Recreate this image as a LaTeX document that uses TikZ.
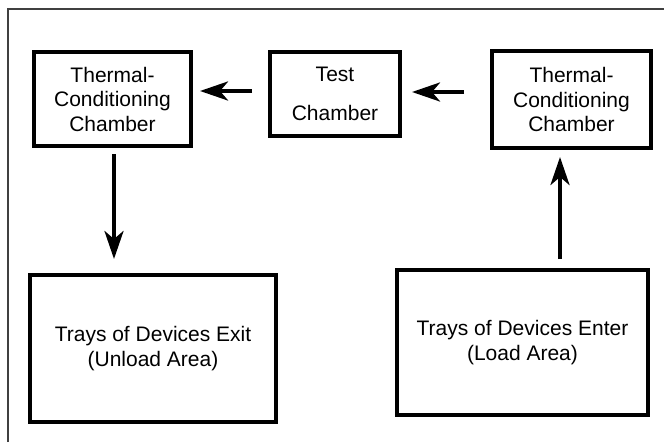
\documentclass[tikz,border=0pt]{standalone}
\usepackage{fontspec}
\setmainfont{Liberation Sans}
\usetikzlibrary{arrows.meta}
\begin{document}
\begin{tikzpicture}[x=1pt,y=-1pt,
  box/.style={draw=black,line width=4pt,inner sep=0pt,outer sep=0pt,align=center,
    font=\fontsize{21}{24.5}\selectfont},
  arr/.style={line width=4pt,-{Stealth[length=28pt,width=19pt,inset=8pt]}}]
\useasboundingbox (0,0) rectangle (664,442);
\draw[line width=1.8pt,black!75] (8,442) -- (8,9) -- (664,9);
\node[box,minimum width=157pt,minimum height=94pt] (tl) at (112.5,99) {Thermal-\\Conditioning\\Chamber};
\node[box,minimum width=130pt,minimum height=84pt] (test) at (335,94) {Test\\[14pt]Chamber};
\node[box,minimum width=159pt,minimum height=97pt] (tr) at (571.5,99.5) {Thermal-\\Conditioning\\Chamber};
\node[box,minimum width=246pt,minimum height=147pt] (bl) at (153,348.5) {Trays of Devices Exit\\(Unload Area)};
\node[box,minimum width=251pt,minimum height=145pt] (br) at (522.5,342.5) {Trays of Devices Enter\\(Load Area)};
\draw[arr,shorten <=18pt,shorten >=9pt] (test.west |- 0,91) -- (tl.east |- 0,91);
\draw[arr,shorten <=28pt,shorten >=12pt] (tr.west |- 0,92) -- (test.east |- 0,92);
\draw[arr,shorten <=8pt,shorten >=16pt] (tl.south -| 114,0) -- (bl.north -| 114,0);
\draw[arr,shorten <=11pt,shorten >=9pt] (br.north -| 560,0) -- (tr.south -| 560,0);
\end{tikzpicture}
\end{document}
